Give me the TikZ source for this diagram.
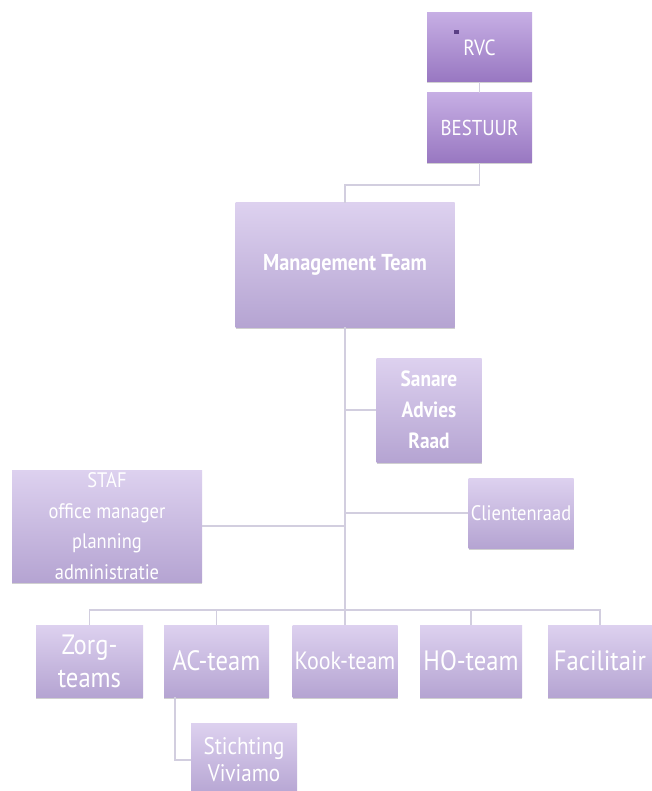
\documentclass[tikz,border=0pt]{standalone}
\usepackage{fontspec}
\setmainfont{PT Sans}[FakeStretch=0.88]
\usetikzlibrary{shadows}
\definecolor{linec}{HTML}{D2CEDF}
\definecolor{ltop}{HTML}{DDD1EF}
\definecolor{lbot}{HTML}{B5A4D2}
\definecolor{dtop}{HTML}{C6AEE4}
\definecolor{dbot}{HTML}{9877C1}
\definecolor{markc}{HTML}{5B3F86}
\tikzset{
  orgbox/.style={rectangle, inner sep=0pt, align=center, text=white,
    top color=ltop, bottom color=lbot, draw=none,
    drop shadow={opacity=0.3, shadow xshift=0pt, shadow yshift=-1.5pt, fill=black!60}},
  darkbox/.style={orgbox, top color=dtop, bottom color=dbot},
  conn/.style={draw=linec, line width=1.3pt},
}
\begin{document}
\begin{tikzpicture}[x=1pt, y=1pt]
\useasboundingbox[fill=white] (0,0) rectangle (652,-791);
% top
\node[darkbox, minimum width=105pt, minimum height=69pt, font=\fontsize{22}{26}\selectfont] (rvc) at (479.5,-47.5) {RVC};
\fill[markc] (454,-30.5) rectangle (459,-34);
\node[darkbox, minimum width=105pt, minimum height=70pt, font=\fontsize{21.5}{26}\selectfont] (best) at (479.5,-128) {BESTUUR};
\node[orgbox, minimum width=219pt, minimum height=124pt, font=\bfseries\fontsize{23}{27}\selectfont] (mt) at (345,-265) {Management Team};
% middle
\node[orgbox, minimum width=105pt, minimum height=104pt, font=\bfseries\fontsize{22}{31}\selectfont] (sar) at (429,-410) {Sanare\\Advies\\Raad};
\node[orgbox, minimum width=105pt, minimum height=70pt, font=\fontsize{21}{25}\selectfont] (cli) at (521,-513) {Clientenraad};
\node[orgbox, minimum width=190pt, minimum height=112pt, font=\fontsize{21}{30.5}\selectfont] (staf) at (107,-526) {STAF\\office manager\\planning\\administratie};
% bottom row
\node[orgbox, minimum width=107pt, minimum height=72pt, font=\fontsize{28}{33}\selectfont] (zorg) at (89.5,-661) {Zorg-\\teams};
\node[orgbox, minimum width=105pt, minimum height=72pt, font=\fontsize{28}{33}\selectfont] (ac) at (216.5,-661) {AC-team};
\node[orgbox, minimum width=105pt, minimum height=72pt, font=\fontsize{25}{30}\selectfont] (kook) at (345,-661) {Kook-team};
\node[orgbox, minimum width=102pt, minimum height=72pt, font=\fontsize{28}{33}\selectfont] (ho) at (471,-661) {HO-team};
\node[orgbox, minimum width=104pt, minimum height=72pt, font=\fontsize{28}{33}\selectfont] (fac) at (600,-661) {Facilitair};
\node[orgbox, minimum width=106pt, minimum height=74pt, font=\fontsize{24}{27}\selectfont] (sti) at (244,-760) {Stichting\\Viviamo};
% connectors
\coordinate (elbow) at (479.5,-185);
\coordinate (bus) at (345,-610);
\coordinate (acdrop) at (175,-697);
\draw[conn] (rvc.south) -- (best.north);
\draw[conn] (best.south) -- (elbow) -| (mt.north);
\draw[conn] (mt.south) -- (kook.north);
\draw[conn] (sar.west) -- (sar.west -| mt.south);
\draw[conn] (cli.west) -- (cli.west -| mt.south);
\draw[conn] (staf.east) -- (staf.east -| mt.south);
\draw[conn] (zorg.north) |- (bus) -| (fac.north);
\draw[conn] (ac.north) -- (ac.north |- bus);
\draw[conn] (ho.north) -- (ho.north |- bus);
\draw[conn] (acdrop) |- (sti.west);
\end{tikzpicture}
\end{document}
